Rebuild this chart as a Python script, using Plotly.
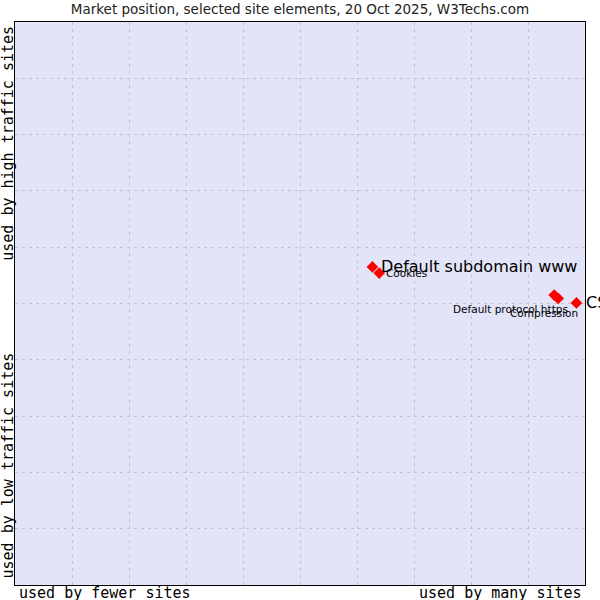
import plotly.graph_objects as go

names = ["Default subdomain www", "Cookies", "Default protocol https", "Compression", "CSS"]
x_vals = [6.27, 6.39, 9.46, 9.53, 9.85]
y_vals = [5.65, 5.54, 5.15, 5.09, 5.01]

# label styling: (font size, xanchor, xshift, yshift)
label_style = [
    (16, "left", 7, 0),
    (10.5, "left", 5, 0),
    (10.5, "right", 16, -14),
    (10.5, "right", 22, -15),
    (16, "left", 8, 0),
]

fig = go.Figure()
fig.add_trace(go.Scatter(
    x=x_vals, y=y_vals, mode="markers",
    marker=dict(symbol="diamond", size=9, color="#ff0000", line=dict(width=0)),
    cliponaxis=False, hoverinfo="text", text=names,
))

for n, xv, yv, (fs, xa, xs, ys) in zip(names, x_vals, y_vals, label_style):
    fig.add_annotation(x=xv, y=yv, text=n, showarrow=False, xanchor=xa, yanchor="middle",
                       xshift=xs, yshift=ys, font=dict(family="DejaVu Sans", size=fs, color="#000"))

grid = dict(showgrid=True, gridcolor="#c4c4c4", griddash="3px,4px", gridwidth=1, zeroline=False,
            showticklabels=False, ticks="", showline=True, linecolor="#000", linewidth=1, mirror=True)
fig.update_xaxes(range=[0, 10], dtick=1, **grid)
fig.update_yaxes(range=[0, 10], dtick=1, **grid)

mono = dict(family="DejaVu Sans Mono", size=15, color="#000")
fig.add_annotation(text="used by fewer sites", xref="paper", yref="paper", x=0.004, y=0, yshift=-8,
                   xanchor="left", yanchor="middle", showarrow=False, font=mono)
fig.add_annotation(text="used by many sites", xref="paper", yref="paper", x=0.998, y=0, yshift=-8,
                   xanchor="right", yanchor="middle", showarrow=False, font=mono)
fig.add_annotation(text="used by high traffic sites", xref="paper", yref="paper", x=0, xshift=-7, y=0.996,
                   xanchor="center", yanchor="top", textangle=-90, showarrow=False, font=mono)
fig.add_annotation(text="used by low traffic sites", xref="paper", yref="paper", x=0, xshift=-7, y=0.008,
                   xanchor="center", yanchor="bottom", textangle=-90, showarrow=False, font=mono)

fig.update_layout(
    width=600, height=600,
    margin=dict(l=15, r=15, t=22, b=15),
    paper_bgcolor="#ffffff", plot_bgcolor="#e4e4f8",
    showlegend=False,
    title=dict(text="Market position, selected site elements, 20 Oct 2025, W3Techs.com",
               x=0.5, xanchor="center", y=0.985, yanchor="middle",
               font=dict(family="DejaVu Sans", size=13.5, color="#222")),
)

fig.write_html("out.html", config={"displayModeBar": False},
               post_script="document.body.style.margin='0';document.body.style.padding='0';")
